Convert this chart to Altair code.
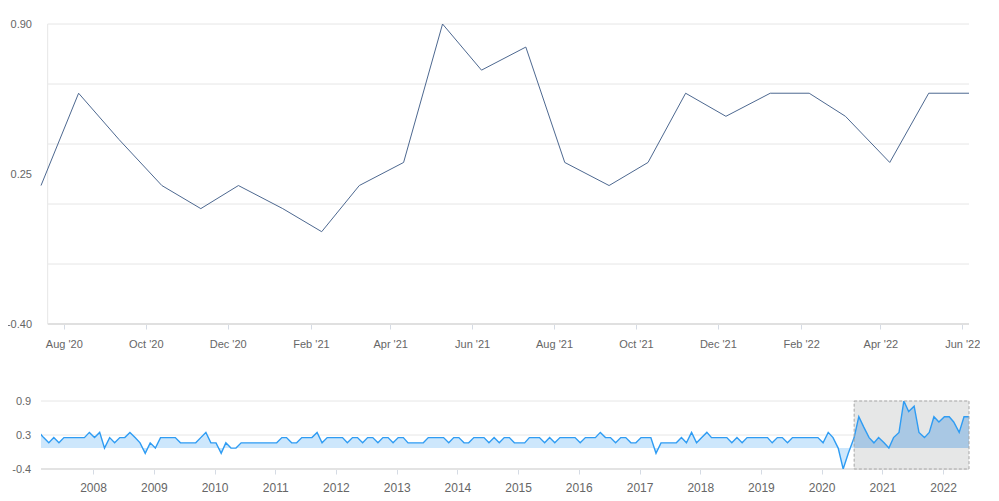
import altair as alt
import pandas as pd

# ---------------- data ----------------
main_dates = [
    "2020/07/15", "2020/08/12", "2020/09/11", "2020/10/13", "2020/11/11", "2020/12/09",
    "2021/01/11", "2021/02/09", "2021/03/09", "2021/04/11", "2021/05/10", "2021/06/08",
    "2021/07/11", "2021/08/09", "2021/09/11", "2021/10/10", "2021/11/07", "2021/12/07",
    "2022/01/09", "2022/02/07", "2022/03/06", "2022/04/08", "2022/05/07", "2022/06/06",
]
main_values = [
    0.2, 0.6, 0.4, 0.2, 0.1, 0.2,
    0.1, 0.0, 0.2, 0.3, 0.9, 0.7,
    0.8, 0.3, 0.2, 0.3, 0.6, 0.5,
    0.6, 0.6, 0.5, 0.3, 0.6, 0.6,
]

# monthly history, Feb 2007 .. Jun 2020 (navigator)
hist_values = [
    0.3, 0.2, 0.1, 0.2, 0.1, 0.2, 0.2, 0.2, 0.2, 0.2,
    0.3, 0.2, 0.3, 0.0, 0.2, 0.1, 0.2, 0.2, 0.3, 0.2,
    0.1, -0.1, 0.1, 0.0, 0.2, 0.2, 0.2, 0.2, 0.1, 0.1,
    0.1, 0.1, 0.2, 0.3, 0.1, 0.1, -0.1, 0.1, 0.0, 0.0,
    0.1, 0.1, 0.1, 0.1, 0.1, 0.1, 0.1, 0.1, 0.2, 0.2,
    0.1, 0.1, 0.2, 0.2, 0.2, 0.3, 0.1, 0.2, 0.2, 0.2,
    0.2, 0.1, 0.2, 0.2, 0.1, 0.2, 0.2, 0.1, 0.2, 0.2,
    0.1, 0.2, 0.2, 0.1, 0.1, 0.1, 0.1, 0.2, 0.2, 0.2,
    0.2, 0.1, 0.2, 0.2, 0.1, 0.1, 0.2, 0.2, 0.2, 0.1,
    0.2, 0.1, 0.2, 0.2, 0.1, 0.1, 0.1, 0.2, 0.2, 0.2,
    0.1, 0.2, 0.1, 0.2, 0.2, 0.2, 0.2, 0.1, 0.2, 0.2,
    0.2, 0.3, 0.2, 0.2, 0.1, 0.2, 0.2, 0.1, 0.1, 0.2,
    0.2, 0.2, -0.1, 0.1, 0.1, 0.1, 0.1, 0.2, 0.1, 0.3,
    0.1, 0.2, 0.3, 0.2, 0.2, 0.2, 0.2, 0.1, 0.2, 0.1,
    0.2, 0.2, 0.2, 0.2, 0.2, 0.1, 0.2, 0.2, 0.1, 0.2,
    0.2, 0.2, 0.2, 0.2, 0.2, 0.1, 0.3, 0.2, 0.0, -0.4,
    -0.1,
]
hist_dates = []
for k in range(len(hist_values)):
    m = 1 + k  # Feb 2007 = month index 1 (0-based from Jan)
    hist_dates.append(f"{2007 + m // 12}/{m % 12 + 1:02d}/10")

main_grid = [0.9, 0.64, 0.38, 0.12, -0.14]
y_label_values = [0.9, 0.25, -0.4]
main_tick_months = [(2020, 8), (2020, 10), (2020, 12), (2021, 2), (2021, 4), (2021, 6),
                    (2021, 8), (2021, 10), (2021, 12), (2022, 2), (2022, 4), (2022, 6)]
nav_years = list(range(2008, 2023))

# ---------------- style ----------------
FONT = "Liberation Sans"
LABEL = "#666666"
GRID = "#e6e6e6"
TICK = "#d5dbe4"
W = 928
MAIN_H = 300
NAV_H = 68
EXT = 36

main_df = pd.DataFrame({"date": main_dates, "value": main_values})
nav_df = pd.DataFrame({"date": hist_dates + main_dates, "value": hist_values + main_values})
mask_df = pd.DataFrame({"date": main_dates, "value": main_values})
one = pd.DataFrame({"v": [0]})

xs_main = alt.Scale(domain=[alt.DateTime(year=2020, month=7, date=15),
                            alt.DateTime(year=2022, month=6, date=6)])
ys = alt.Scale(domain=[-0.4, 0.9], nice=False, zero=False)
xs_nav = alt.Scale(domain=[alt.DateTime(year=2007, month=2, date=22),
                           alt.DateTime(year=2022, month=6, date=6)])

x_axis_main = alt.Axis(
    values=[alt.DateTime(year=y, month=m, date=1) for y, m in main_tick_months],
    format="%b '%y", title=None, grid=False, domain=False,
    tickSize=5, tickColor=TICK, labelPadding=9, labelFont=FONT, labelFontSize=11,
    labelColor=LABEL, labelFlush=False, labelOverlap=False)
y_axis_main = alt.Axis(
    values=y_label_values, title=None, grid=False, domain=False, ticks=False, tickSize=0,
    labelExpr="replace(format(datum.value, '.2f'), '\u2212', '-')",
    labelPadding=9.5, labelFont=FONT, labelFontSize=11, labelColor=LABEL,
    minExtent=EXT, maxExtent=EXT)
x_axis_nav = alt.Axis(
    values=[alt.DateTime(year=y, month=1, date=1) for y in nav_years],
    format="%Y", title=None, grid=False, domain=False,
    tickSize=5, tickColor=TICK, labelPadding=8, labelFont=FONT, labelFontSize=12,
    labelColor=LABEL, labelFlush=False, labelOverlap=False)
y_axis_nav = alt.Axis(
    values=y_label_values, title=None, grid=False, domain=False, ticks=False, tickSize=0,
    labelExpr="replace(format(datum.value, '.1f'), '\u2212', '-')",
    labelPadding=10.3, labelFont=FONT, labelFontSize=11, labelColor=LABEL,
    minExtent=EXT, maxExtent=EXT)

# ---------------- main chart ----------------
grid_main = alt.Chart(pd.DataFrame({"v": main_grid})).mark_rule(color=GRID, strokeWidth=1).encode(
    y=alt.Y("v:Q", scale=ys, axis=y_axis_main), x=alt.value(6.7), x2=alt.value(W))
base_main = alt.Chart(pd.DataFrame({"v": [-0.4]})).mark_rule(color="#e0e0e0", strokeWidth=2).encode(
    y=alt.Y("v:Q", scale=ys, axis=y_axis_main), x=alt.value(6.7), x2=alt.value(W))
vline_main = alt.Chart(one).mark_rule(color=GRID, strokeWidth=1).encode(
    x=alt.value(6.7), y=alt.value(0), y2=alt.value(MAIN_H))
line_main = alt.Chart(main_df).mark_line(color="#4d6890", strokeWidth=1, clip=False).encode(
    x=alt.X("date:T", scale=xs_main, axis=x_axis_main),
    y=alt.Y("value:Q", scale=ys, axis=y_axis_main),
)

main = alt.layer(grid_main, base_main, vline_main, line_main).properties(width=W, height=MAIN_H)

# ---------------- navigator ----------------
mask_range = pd.DataFrame({"date": [main_dates[0]], "end": [main_dates[-1]]})
mask = alt.Chart(mask_range).mark_rect(color="#e6e7e7").encode(
    x=alt.X("date:T", scale=xs_nav, axis=x_axis_nav), x2="end:T",
    y=alt.value(0), y2=alt.value(NAV_H))
grid_nav = alt.Chart(pd.DataFrame({"value": [0.9, 0.25]})).mark_rule(color=GRID, strokeWidth=1).encode(
    y=alt.Y("value:Q", scale=ys, axis=y_axis_nav), x=alt.value(0), x2=alt.value(W))
base_nav = alt.Chart(pd.DataFrame({"value": [-0.4]})).mark_rule(color="#e3e3e3", strokeWidth=2).encode(
    y=alt.Y("value:Q", scale=ys, axis=y_axis_nav), x=alt.value(0), x2=alt.value(W))
area_nav = alt.Chart(nav_df).mark_area(color="#cde7fc", clip=True).encode(
    x=alt.X("date:T", scale=xs_nav, axis=x_axis_nav),
    y=alt.Y("value:Q", scale=ys, axis=y_axis_nav), y2=alt.datum(0))
area_mask = alt.Chart(mask_df).mark_area(color="#a9c8e4", clip=True).encode(
    x=alt.X("date:T", scale=xs_nav, axis=x_axis_nav),
    y=alt.Y("value:Q", scale=ys, axis=y_axis_nav), y2=alt.datum(0))
line_nav = alt.Chart(nav_df).mark_line(color="#2f9cf3", strokeWidth=1.4, clip=True).encode(
    x=alt.X("date:T", scale=xs_nav, axis=x_axis_nav),
    y=alt.Y("value:Q", scale=ys, axis=y_axis_nav),
)
border = alt.Chart(mask_range).mark_rect(fillOpacity=0, stroke="#a6a6a6", strokeWidth=1,
                                         strokeDash=[3, 2]).encode(
    x=alt.X("date:T", scale=xs_nav, axis=x_axis_nav), x2="end:T",
    y=alt.value(0), y2=alt.value(NAV_H))

nav = alt.layer(mask, grid_nav, base_nav, area_nav, area_mask, line_nav, border).properties(
    width=W, height=NAV_H)

chart = alt.vconcat(main, nav, spacing=46).properties(
    padding={"left": -3, "top": 10, "right": 0, "bottom": 0},
    background="white",
).configure_view(strokeWidth=0)

chart.save("out.html", embed_options={"renderer": "svg", "actions": False})
